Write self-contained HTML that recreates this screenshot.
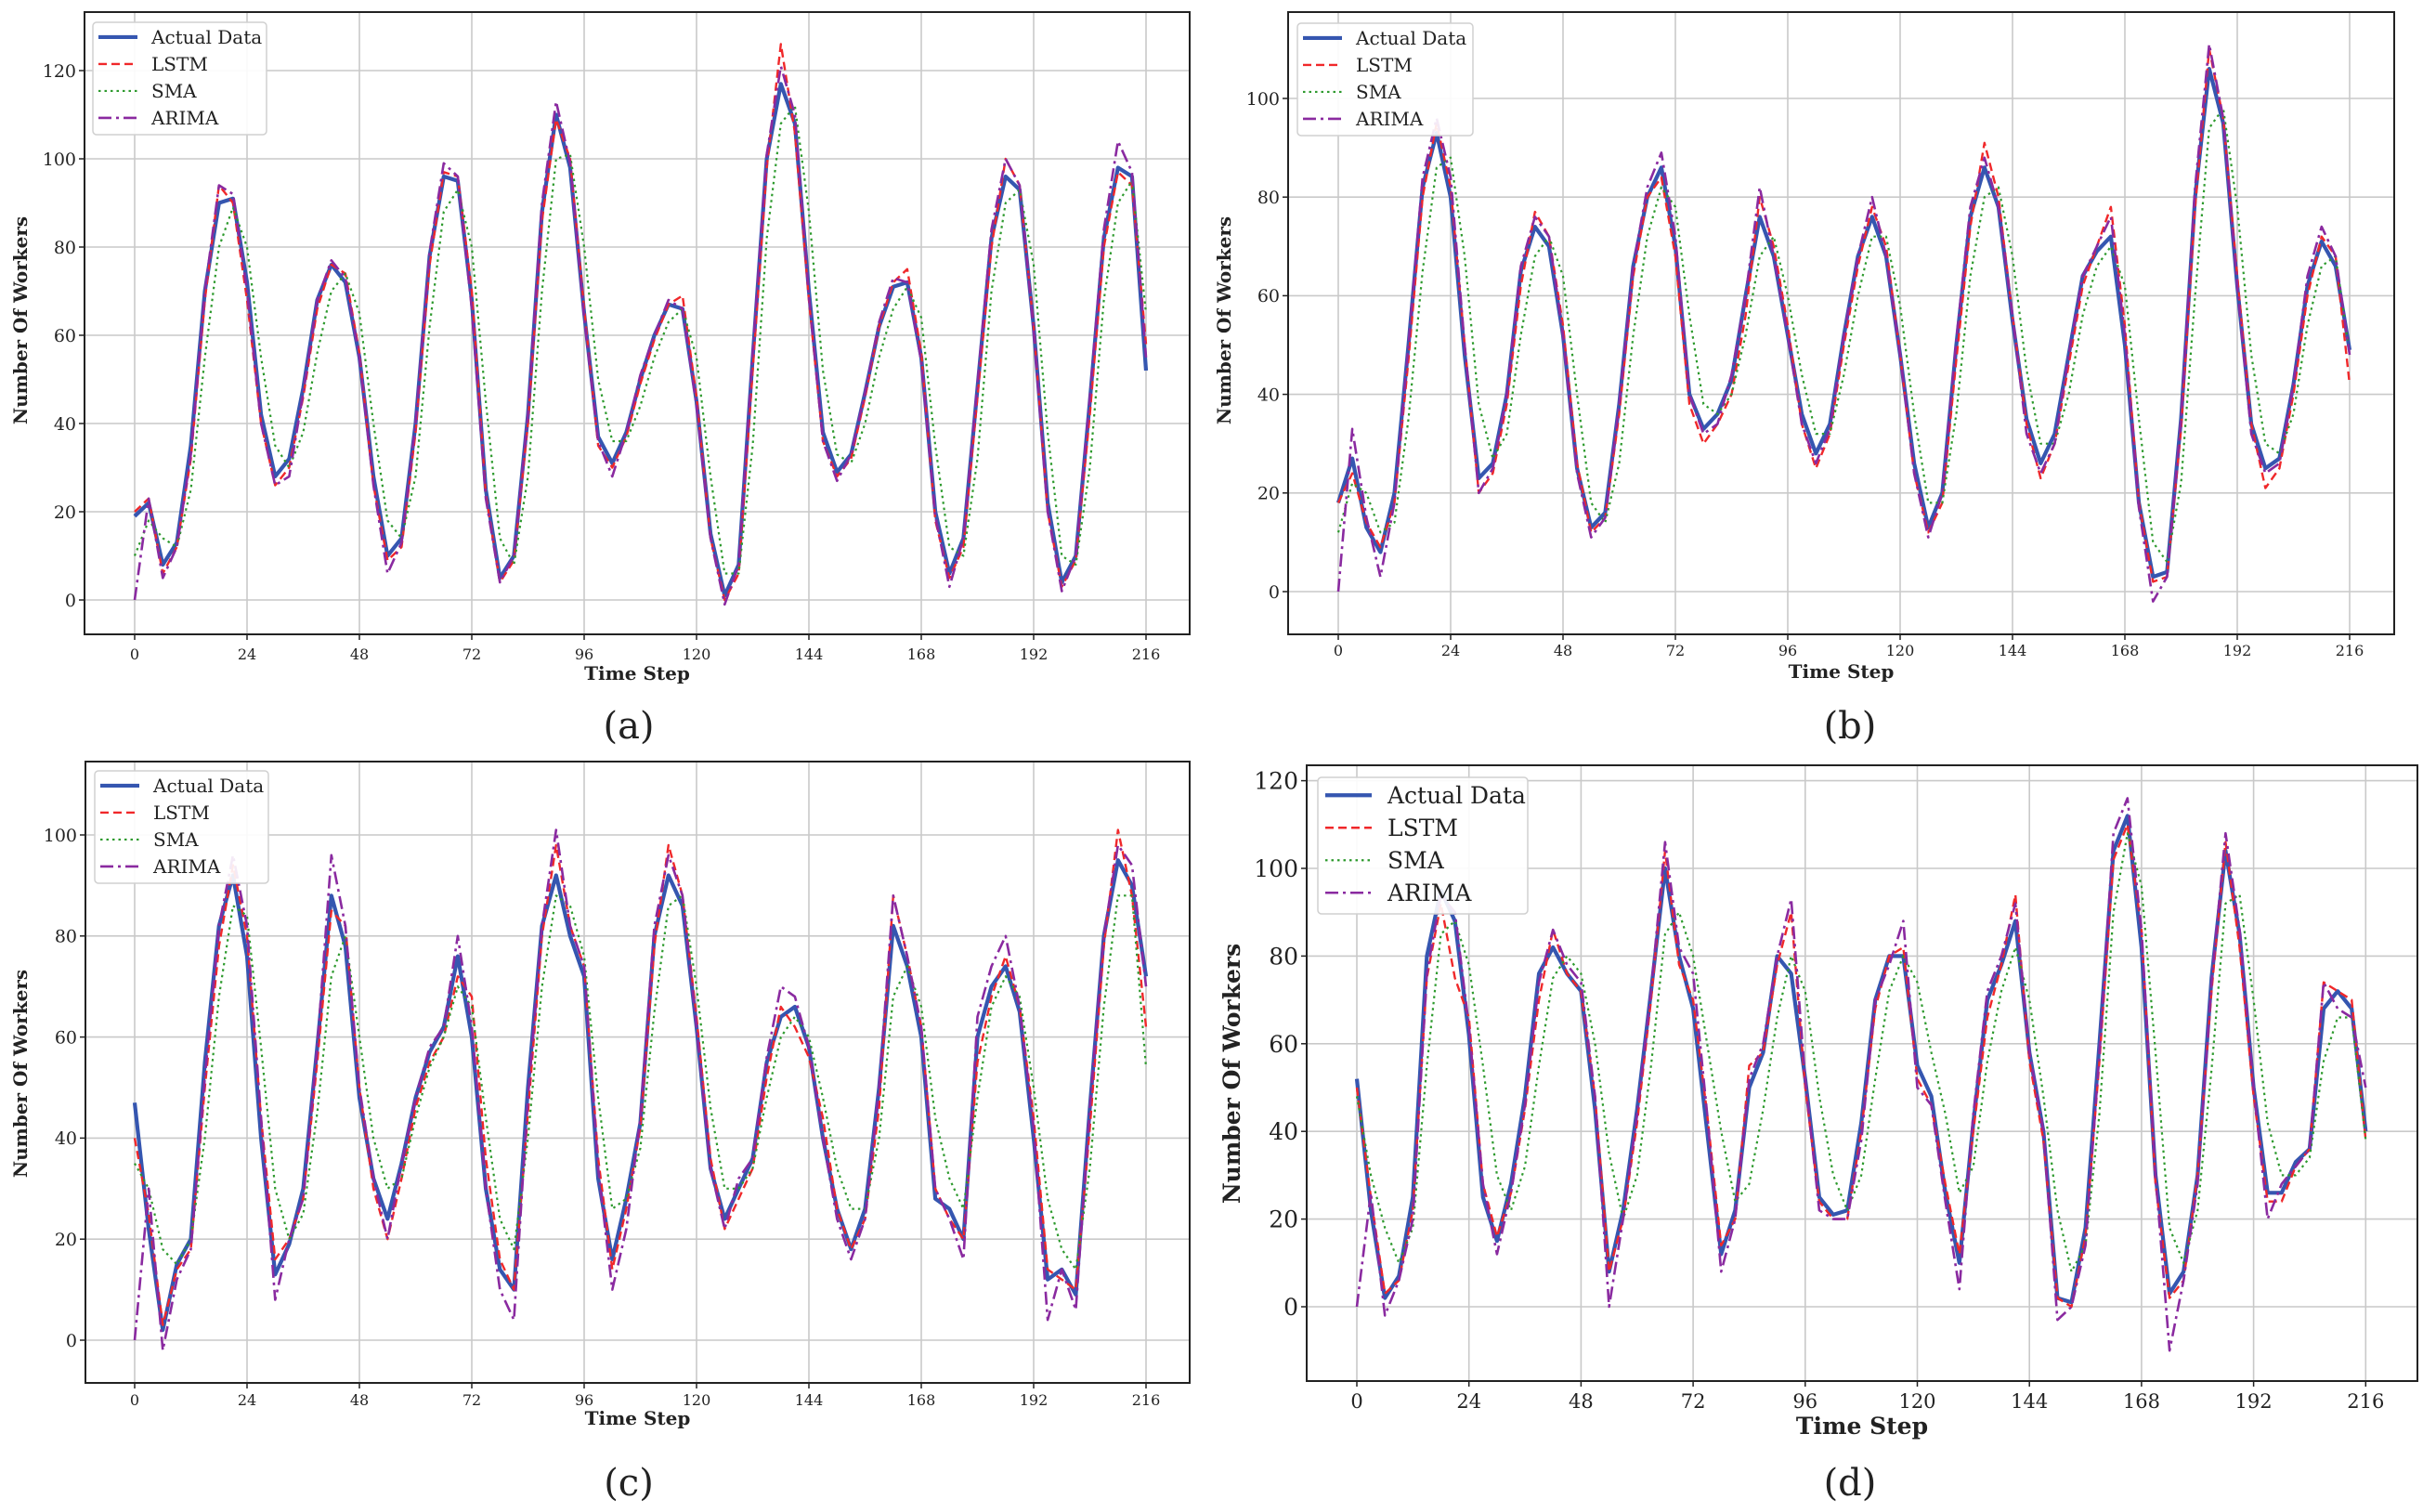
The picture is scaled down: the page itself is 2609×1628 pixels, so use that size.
<!DOCTYPE html>
<html><head><meta charset="utf-8">
<style>
html,body{margin:0;padding:0;background:#fff;}
svg{display:block;}
text{font-family:"DejaVu Serif","Liberation Serif",serif;fill:#222;}
</style></head>
<body>
<svg id="fig" width="2609" height="1628" viewBox="0 0 2609 1628" xmlns="http://www.w3.org/2000/svg"></svg>
<script>
// ---- data (time step 0..216, sampled every 3 steps) ----
const stepSize = 3;
const xTicks = [0,24,48,72,96,120,144,168,192,216];
const yTicksA = [0,20,40,60,80,100,120];
const yTicksB = [0,20,40,60,80,100];
const yTicksC = [0,20,40,60,80,100];
const yTicksD = [0,20,40,60,80,100,120];
const seriesNames = ["Actual Data","LSTM","SMA","ARIMA"];

const aActual = [19,22,8,13,35,70,90,91,72,42,28,32,48,68,76,72,55,28,10,14,40,78,96,95,68,25,5,10,42,88,110,98,65,37,31,38,50,60,67,66,45,15,1,8,55,100,117,108,70,38,29,33,47,62,71,72,55,20,6,14,48,82,96,93,62,22,4,10,45,82,98,96,52];
const aLstm = [20,23,6,12,32,68,94,90,68,40,26,30,46,66,76,74,56,26,9,12,38,76,97,96,70,24,4,9,40,86,109,100,66,35,30,37,49,59,67,69,46,14,0,6,52,98,126,106,68,36,28,32,46,62,72,75,56,18,5,12,46,80,100,94,62,20,3,9,42,80,97,94,58];
const aSma = [10,18,14,12,25,55,80,89,80,55,35,30,38,56,70,74,65,40,18,14,28,62,88,93,80,45,14,8,28,70,100,101,80,50,36,36,44,55,63,66,55,28,6,6,35,82,108,112,88,52,33,31,40,55,66,71,64,35,12,10,32,70,90,93,76,38,10,8,30,68,90,95,65];
const aArima = [0,23,5,12,33,70,94,92,70,40,26,28,47,68,77,73,55,26,6,13,40,79,99,96,66,23,4,10,42,90,113,99,64,36,28,38,51,60,68,66,44,14,-1,8,56,101,121,110,69,36,27,33,47,63,73,72,54,19,3,14,49,84,100,94,61,20,2,10,46,84,104,97,55];

const bActual = [18,27,13,8,20,50,82,93,80,48,23,26,40,65,74,70,52,25,13,16,38,66,80,86,70,40,33,36,43,60,76,68,52,36,28,34,52,68,76,68,48,26,13,20,50,76,86,78,55,35,26,32,48,64,69,72,50,18,3,4,35,80,106,95,62,34,25,27,42,62,71,66,49];
const bLstm = [18,24,14,9,18,47,80,95,82,50,20,24,38,62,77,72,54,26,12,15,36,64,80,84,68,38,30,34,40,56,80,70,54,34,25,32,50,66,78,70,48,24,12,18,47,74,91,80,56,34,23,30,46,62,70,78,54,18,2,3,33,78,110,96,64,34,21,25,40,60,72,68,42];
const bSma = [12,22,20,12,14,35,65,86,88,68,38,27,32,52,68,72,64,40,18,14,26,52,72,82,78,56,38,36,40,52,68,72,60,44,32,32,44,60,72,72,58,36,18,18,36,64,80,82,68,45,30,30,40,56,66,70,62,35,10,6,22,60,94,98,78,48,30,28,36,54,66,68,48];
const bArima = [0,33,15,3,18,50,84,96,84,50,20,25,40,66,76,72,52,24,11,15,38,66,82,89,72,40,32,34,44,60,82,68,52,34,26,33,52,68,80,68,48,24,11,20,51,78,88,78,56,32,24,30,48,64,70,76,52,17,-2,3,35,82,111,96,62,32,24,26,42,64,74,68,48];

const cActual = [47,22,2,15,20,55,82,92,76,40,13,19,30,58,88,78,48,32,24,35,48,57,62,76,60,30,14,10,50,82,92,80,72,32,16,28,43,80,92,86,62,34,24,30,36,55,64,66,58,40,26,18,26,50,82,74,60,28,26,20,60,70,74,65,40,12,14,9,46,80,95,90,72];
const cLstm = [40,25,3,14,18,50,78,94,80,44,16,20,28,55,85,82,50,30,20,32,46,55,60,72,68,36,16,10,45,80,98,82,74,36,14,26,42,78,98,88,64,36,22,28,34,52,66,62,56,44,26,18,24,46,88,76,62,30,24,20,55,68,76,66,44,14,12,10,42,78,101,88,62];
const cSma = [35,30,18,15,20,40,68,86,84,58,30,20,25,45,72,80,60,40,30,32,44,54,60,70,66,44,24,18,40,70,88,86,76,48,26,28,38,65,86,88,70,46,30,30,34,48,60,64,60,48,34,26,26,40,68,74,66,44,32,26,48,66,72,68,50,28,18,14,34,66,88,88,54];
const cArima = [0,30,-2,12,18,52,82,96,82,44,8,20,28,58,96,82,50,32,20,35,48,58,62,80,62,30,10,4,48,82,101,82,74,34,10,22,44,82,96,88,62,34,22,32,36,56,70,68,58,40,24,16,24,50,88,76,62,30,24,16,64,74,80,66,42,4,14,6,46,80,98,94,70];

const dActual = [52,22,2,7,25,80,95,88,62,25,15,28,48,76,82,76,72,45,8,22,45,72,100,80,68,40,12,22,50,58,80,76,52,25,21,22,42,70,80,80,55,48,26,10,42,70,78,88,58,40,2,1,18,60,104,112,82,30,3,8,30,75,104,85,50,26,26,33,36,68,72,68,40];
const dLstm = [50,25,3,6,22,75,92,75,66,28,16,26,45,70,86,76,72,48,8,20,42,70,104,78,70,44,14,20,55,58,78,90,50,24,20,20,40,68,80,82,52,46,28,12,40,66,78,94,56,38,2,0,16,56,102,110,86,28,2,6,30,72,106,82,48,24,24,32,36,74,72,70,38];
const dSma = [48,30,18,10,18,55,85,88,78,55,30,22,32,55,75,80,76,60,35,20,30,55,85,90,80,60,40,24,28,45,66,80,72,48,30,22,30,52,72,80,74,58,44,26,32,56,72,82,70,48,22,8,14,44,90,108,96,58,18,10,22,54,92,94,70,42,30,30,34,56,66,66,38];
const dArima = [0,26,-2,6,20,76,94,90,64,28,12,26,46,74,86,78,74,48,0,20,44,72,106,82,76,44,8,20,52,60,80,93,52,22,20,20,38,70,78,88,50,46,24,4,44,72,80,92,58,40,-3,0,14,58,108,116,86,30,-10,6,28,74,108,86,50,20,28,32,36,74,68,66,50];

// ---- rendering ----
const NS = "http://www.w3.org/2000/svg";
const svg = document.getElementById("fig");
function mk(tag, attrs, parent){
  const e = document.createElementNS(NS, tag);
  for (const k in attrs) e.setAttribute(k, attrs[k]);
  (parent||svg).appendChild(e);
  return e;
}
const styles = [
  {stroke:"#3556b0", w:4.2, dash:""},
  {stroke:"#f0282a", w:2.4, dash:"9,5"},
  {stroke:"#2e9a2e", w:2.2, dash:"2.5,4"},
  {stroke:"#8a2aa0", w:2.6, dash:"14,5,3,5"}
];

const panels = [
  {id:"a", L:91, R:1281, T:13, B:683, x0:145, xu:121/24, y0:646, yu:4.75, yt:yTicksA, data:[aActual,aLstm,aSma,aArima],
   ylabX:22, ylabY:345, xlabY:732, tickFs:19, xtickFs:16, xtickY:710, labFs:20, leg:{x:100,y:24,w:187,h:121,fs:20,row:29,l1:106,l2:148,tx:163}, cap:{x:677,y:795}},
  {id:"b", L:1387, R:2578, T:13, B:683, x0:1441, xu:121/24, y0:637, yu:5.31, yt:yTicksB, data:[bActual,bLstm,bSma,bArima],
   ylabX:1318, ylabY:345, xlabY:730, tickFs:19, xtickFs:16, xtickY:706, labFs:20, leg:{x:1397,y:25,w:189,h:121,fs:20,row:29,l1:1403,l2:1445,tx:1460}, cap:{x:1992,y:795}},
  {id:"c", L:92, R:1281, T:820, B:1489, x0:145, xu:121/24, y0:1443, yu:5.44, yt:yTicksC, data:[cActual,cLstm,cSma,cArima],
   ylabX:22, ylabY:1156, xlabY:1534, tickFs:19, xtickFs:16, xtickY:1513, labFs:20, leg:{x:102,y:830,w:187,h:121,fs:20,row:29,l1:108,l2:150,tx:165}, cap:{x:677,y:1610}},
  {id:"d", L:1407, R:2603, T:824, B:1487, x0:1461, xu:120.7/24, y0:1407, yu:4.72, yt:yTicksD, data:[dActual,dLstm,dSma,dArima],
   ylabX:1326, ylabY:1156, xlabY:1544, tickFs:25, xtickFs:21, xtickY:1516, labFs:25, leg:{x:1419,y:837,w:226,h:147,fs:25,row:35,l1:1427,l2:1477,tx:1494}, cap:{x:1992,y:1610}}
];

panels.forEach(p=>{
  const g = mk("g", {});
  
  
  const X = t => p.x0 + t*p.xu;
  const Y = v => p.y0 - v*p.yu;
  const grid = mk("g", {stroke:"#c9c9c9","stroke-width":1.6}, g);
  
  
  xTicks.forEach(t=>{ mk("line",{x1:X(t),x2:X(t),y1:p.T,y2:p.B},grid); });
  p.yt.forEach(v=>{ mk("line",{x1:p.L,x2:p.R,y1:Y(v),y2:Y(v)},grid); });
  const cp = mk("clipPath",{id:"clip"+p.id}, g);
  mk("rect",{x:p.L,y:p.T,width:p.R-p.L,height:p.B-p.T},cp);
  p.data.forEach((arr,si)=>{
    const s = styles[si];
    const pts = arr.map((v,i)=>X(i*stepSize).toFixed(1)+","+Y(v).toFixed(1)).join(" ");
    const pl = mk("polyline",{points:pts,fill:"none",stroke:s.stroke,"stroke-width":s.w,"stroke-dasharray":s.dash,"stroke-linejoin":"round","clip-path":"url(#clip"+p.id+")"},g);
    
    
  });
  const fr = mk("rect",{x:p.L,y:p.T,width:p.R-p.L,height:p.B-p.T,fill:"none",stroke:"#222","stroke-width":2},g);
  
  
  p.yt.forEach(v=>{
    mk("line",{x1:p.L-6,x2:p.L,y1:Y(v),y2:Y(v),stroke:"#222","stroke-width":1.5},g);
    const t = mk("text",{x:p.L-9,y:Y(v)+p.tickFs*0.36,"text-anchor":"end","font-size":p.tickFs},g);
    t.textContent = v;
    
    
  });
  xTicks.forEach(tv=>{
    mk("line",{x1:X(tv),x2:X(tv),y1:p.B,y2:p.B+6,stroke:"#222","stroke-width":1.5},g);
    const t = mk("text",{x:X(tv),y:p.xtickY,"text-anchor":"middle","font-size":p.xtickFs},g);
    t.textContent = tv;
    
    
  });
  const xl = mk("text",{x:(p.L+p.R)/2,y:p.xlabY,"text-anchor":"middle","font-size":p.labFs,"font-weight":"bold"},g);
  xl.textContent = "Time Step";
  
  
  const yl = mk("text",{x:p.ylabX,y:p.ylabY,"text-anchor":"middle","font-size":p.labFs,"font-weight":"bold",transform:"rotate(-90 "+(p.ylabX)+" "+p.ylabY+")",dy:"0.35em"},g);
  yl.textContent = "Number Of Workers";
  
  
  const lg = mk("g",{},g);
  
  
  const L = p.leg;
  mk("rect",{x:L.x,y:L.y,width:L.w,height:L.h,rx:4,fill:"#fff","fill-opacity":0.9,stroke:"#d0d0d0","stroke-width":1.5},lg);
  seriesNames.forEach((nm,si)=>{
    const cy = L.y + L.row*0.55 + si*L.row;
    const s = styles[si];
    mk("line",{x1:L.l1,x2:L.l2,y1:cy,y2:cy,stroke:s.stroke,"stroke-width":s.w,"stroke-dasharray":s.dash},lg);
    const t = mk("text",{x:L.tx,y:cy+L.fs*0.35,"font-size":L.fs,"font-family":"Liberation Serif, serif"},lg);
    t.textContent = nm;
    
    
  });
  const cap = mk("text",{x:p.cap.x,y:p.cap.y,"text-anchor":"middle","font-size":40,"font-family":"Liberation Serif, serif"},svg);
  cap.textContent = "(" + p.id + ")";
  
  
});
</script>
</body></html>
